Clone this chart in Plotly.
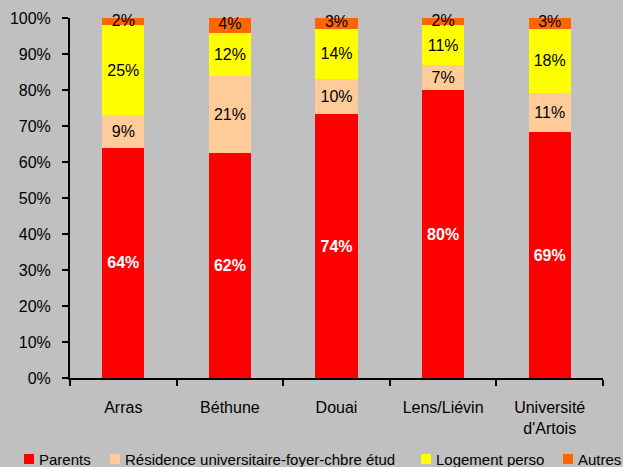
import plotly.graph_objects as go

categories = ["Arras", "Béthune", "Douai", "Lens/Liévin", "Université<br>d'Artois"]
parents = [64, 62, 74, 80, 69]
residence = [9, 21, 10, 7, 11]
logement = [25, 12, 14, 11, 18]
autres = [2, 4, 3, 2, 3]

series = [
    ("Parents", parents, "#FF0000", "white", "bold"),
    ("Résidence universitaire-foyer-chbre étud", residence, "#FFCC99", "black", "normal"),
    ("Logement perso", logement, "#FFFF00", "black", "normal"),
    ("Autres", autres, "#FF6600", "black", "normal"),
]

FONT = "Liberation Sans, Arial, sans-serif"
W, H = 623, 467
ML, MR, MT, MB = 70, 20, 18, 89
PW, PH = W - ML - MR, H - MT - MB

fig = go.Figure()
for i, (name, vals, color, tcol, weight) in enumerate(series):
    last = i == len(series) - 1
    fig.add_trace(go.Bar(
        x=categories, y=vals, name=name,
        marker=dict(color=color, line=dict(width=0)),
        text=None if last else [f"{v}%" for v in vals],
        textposition="none" if last else "inside", insidetextanchor="middle",
        textangle=0, constraintext="none",
        textfont=dict(color=tcol, size=16, family=FONT, weight=weight),
        cliponaxis=False, showlegend=False,
    ))

# labels of the thin top segment (placed at the segment centre, in data units)
totals = [p + r + l + a for p, r, l, a in zip(parents, residence, logement, autres)]
autres_mid = [(t - a / 2) / t * 100 for t, a in zip(totals, autres)]
fig.add_trace(go.Scatter(
    x=categories, y=autres_mid, mode="text",
    text=[f"{v}%" for v in autres], textposition="middle center",
    textfont=dict(color="black", size=16, family=FONT),
    hoverinfo="skip", showlegend=False, cliponaxis=False,
))

# manual legend (single row at the bottom, like the original)
legend_items = [(s[0], s[2]) for s in series]
legend_sq_x = [24, 110, 421, 563]
shapes, annotations = [], []
for (name, color), px in zip(legend_items, legend_sq_x):
    shapes.append(dict(type="rect", xref="paper", yref="paper",
                       x0=(px - ML) / PW, x1=(px + 10 - ML) / PW,
                       y0=(H - MB - 464) / PH, y1=(H - MB - 454) / PH,
                       fillcolor=color, line=dict(width=0)))
    annotations.append(dict(xref="paper", yref="paper", x=(px + 13 - ML) / PW,
                            y=(H - MB - 459) / PH, xanchor="left", yanchor="middle",
                            text=name, showarrow=False,
                            font=dict(size=15, family=FONT, color="black")))

fig.update_layout(
    barmode="stack", barnorm="percent", bargap=0.605,
    width=W, height=H,
    paper_bgcolor="#C0C0C0", plot_bgcolor="#C0C0C0",
    margin=dict(l=ML, r=MR, t=MT, b=MB, autoexpand=False),
    font=dict(family=FONT, size=16, color="black"),
    showlegend=False,
    shapes=shapes, annotations=annotations,
    xaxis=dict(showline=True, linecolor="black", linewidth=2, ticks="outside",
               tickson="boundaries", ticklen=6, tickcolor="black", tickwidth=2,
               showgrid=False, tickfont=dict(size=16), ticklabelstandoff=14),
    yaxis=dict(range=[0, 100], dtick=10, ticksuffix="%", showline=True, linecolor="black",
               linewidth=2, ticks="outside", ticklen=6, tickcolor="black", tickwidth=2,
               showgrid=False, zeroline=False, tickfont=dict(size=16), ticklabelstandoff=8),
)

fig.write_html("out.html", config={"displayModeBar": False},
               post_script="document.body.style.margin='0';document.body.style.overflow='hidden';")
